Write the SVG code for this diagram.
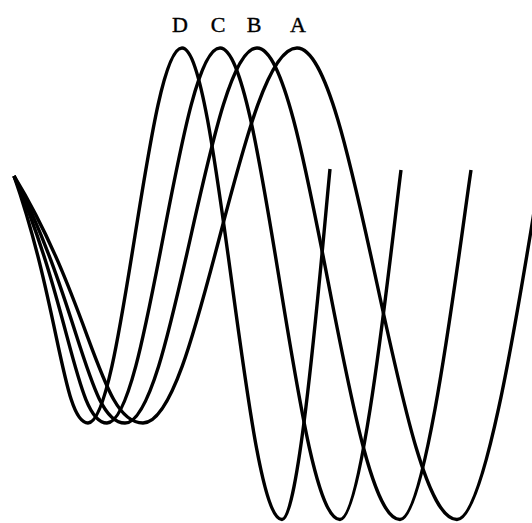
<svg xmlns="http://www.w3.org/2000/svg" width="532" height="523" viewBox="0 0 532 523">
<style>
.w{fill:none;stroke:#000;stroke-width:3.4;stroke-linejoin:round;stroke-linecap:butt}
.l{font-family:"Liberation Serif","Times New Roman",serif;font-size:22px;fill:#000;stroke:#000;stroke-width:0.4;text-anchor:middle}
</style>
<rect width="532" height="523" fill="#fff"/>
<g id="curve-D">
<path class="w" d="M14,176 C59.4,306 63,423 88,423 C104.92,423 119.29,333.96 135,235.5 C150.71,137.04 165.08,48 182,48 C200,48 215.29,159.96 232,283.75 C248.72,407.54 264,519.5 282,519.5 C300,519.5 322,250 330,169"/>
<text class="l" x="180" y="32">D</text>
</g>
<g id="curve-C">
<path class="w" d="M14,176 C71,306 75.6,423 107,423 C127.33,423 144.61,333.96 163.5,235.5 C182.39,137.04 199.67,48 220,48 C241.59,48 259.94,159.96 280,283.75 C300.06,407.54 318.41,519.5 340,519.5 C362.9,519.5 390.8,250 401,170"/>
<text class="l" x="218" y="32">C</text>
</g>
<g id="curve-B">
<path class="w" d="M14,176 C80.8,306 87.5,423 125,423 C148.75,423 168.94,333.96 191,235.5 C213.06,137.04 233.25,48 257,48 C282.73,48 304.6,159.96 328.5,283.75 C352.4,407.54 374.27,519.5 400,519.5 C426.6,519.5 459.1,250 471,170"/>
<text class="l" x="254" y="32">B</text>
</g>
<g id="curve-A">
<path class="w" d="M14,176 C93,306 99.4,423 143,423 C170.71,423 194.26,333.96 220,235.5 C245.74,137.04 269.29,48 297,48 C325.79,48 350.26,159.96 377,283.75 C403.74,407.54 428.21,519.5 457,519.5 C488.5,519.5 527,250 541,170"/>
<text class="l" x="298" y="32">A</text>
</g>
</svg>
